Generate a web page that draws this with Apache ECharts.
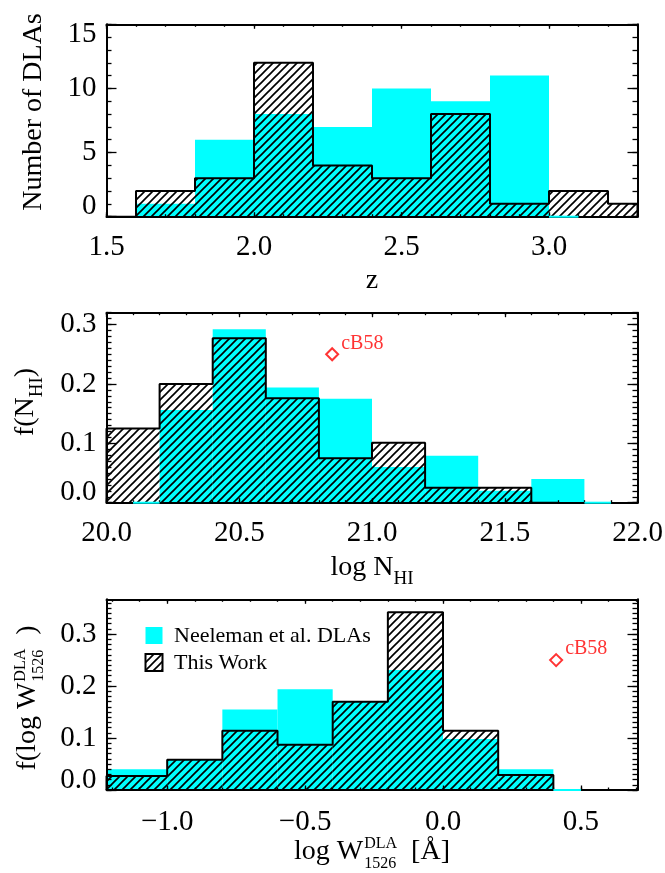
<!DOCTYPE html>
<html><head><meta charset="utf-8">
<script src="https://cdn.jsdelivr.net/npm/echarts@6/dist/echarts.min.js"></script>
<style>html,body{margin:0;padding:0;background:#fff}#c{width:665px;height:873px}</style>
</head><body><div id="c"></div>
<script>
// ---------------- data ----------------
// Panel 1: redshift histogram (counts)
const zEdgesThis = [1.5, 1.6, 1.8, 2.0, 2.2, 2.4, 2.6, 2.8, 3.0, 3.2, 3.3];
const zThisWork  = [0, 2, 3, 12, 4, 3, 8, 1, 2, 1];
const zEdgesNee  = [1.6, 1.8, 2.0, 2.2, 2.4, 2.6, 2.8, 3.0, 3.1];
const zNeeleman  = [1, 6, 8, 7, 10, 9, 11, 0];
// Panel 2: log N_HI distribution
const nEdgesThis = [20.0, 20.2, 20.4, 20.6, 20.8, 21.0, 21.2, 21.4, 21.6, 21.7];
const nThisWork  = [0.125, 0.200, 0.277, 0.176, 0.075, 0.101, 0.025, 0.025, 0];
const nEdgesNee  = [20.1, 20.2, 20.4, 20.6, 20.8, 21.0, 21.2, 21.4, 21.6, 21.8, 21.9];
const nNeeleman  = [0, 0.156, 0.292, 0.194, 0.175, 0.060, 0.079, 0.020, 0.040, 0];
// Panel 3: log W1526 distribution
const wEdgesThis = [-1.22, -1.0, -0.8, -0.6, -0.4, -0.2, 0.0, 0.2, 0.4];
const wThisWork  = [0.027, 0.058, 0.114, 0.087, 0.170, 0.342, 0.114, 0.029];
const wEdgesNee  = [-1.22, -1.0, -0.8, -0.6, -0.4, -0.2, 0.0, 0.2, 0.4, 0.5];
const wNeeleman  = [0.040, 0.058, 0.155, 0.194, 0.170, 0.231, 0.098, 0.040, 0];
// cB58 points
const cb58N = [20.85, 0.25];
const cb58W = [0.41, 0.25];
// ticks / labels
const xMajor1 = [1.5, 2.0, 2.5, 3.0];            const xLabels1 = ['1.5', '2.0', '2.5', '3.0'];
const yMajor1 = [0, 5, 10, 15];                  const yLabels1 = ['0', '5', '10', '15'];
const xMajor2 = [20.0, 20.5, 21.0, 21.5, 22.0];  const xLabels2 = ['20.0', '20.5', '21.0', '21.5', '22.0'];
const yMajor2 = [0, 0.1, 0.2, 0.3];              const yLabels2 = ['0.0', '0.1', '0.2', '0.3'];
const xMajor3 = [-1.0, -0.5, 0.0, 0.5];          const xLabels3 = ['\u22121.0', '\u22120.5', '0.0', '0.5'];
const yMajor3 = [0, 0.1, 0.2, 0.3];              const yLabels3 = ['0.0', '0.1', '0.2', '0.3'];
const legendNames = ['Neeleman et al. DLAs', 'This Work'];

// ---------------- helpers ----------------
const FONT = 'Liberation Serif';
const TICKFS = 29;
const CYAN = '#00ffff';
function range(a, b, s) { const out = []; const n = Math.round((b - a) / s); for (let i = 0; i <= n; i++) out.push(+(a + i * s).toFixed(6)); return out; }

function makeHatch(s, lw) {
  const c = document.createElement('canvas'); c.width = s; c.height = s;
  const ctx = c.getContext('2d'); ctx.strokeStyle = '#000'; ctx.lineWidth = lw;
  for (const k of [0, s, 2 * s]) { ctx.beginPath(); ctx.moveTo(-1, k + 1); ctx.lineTo(s + 1, k - s - 1); ctx.stroke(); }
  return c;
}
const hatchCanvas = makeHatch(8, 1.7);
const HATCH = { image: hatchCanvas, repeat: 'repeat' };

const richStyles = {
  lo: { padding: [0, 0, 20, 0], fontFamily: FONT, fontSize: TICKFS, color: '#000' },
  hi: { padding: [20, 0, 0, 0], fontFamily: FONT, fontSize: TICKFS, color: '#000' }
};

function axesFor(dim, g, min, max, majors, labels, minors, majLen, minLen, margin, shiftEnds) {
  const pos = dim === 'x' ? ['bottom', 'top'] : ['left', 'right'];
  const common = { type: 'value', gridIndex: g, min, max, z: 10, splitLine: { show: false },
    minorTick: { show: false }, minorSplitLine: { show: false } };
  const tickStyle = { color: '#000', width: 1.3 };
  const fmt = v => {
    const i = majors.findIndex(m => Math.abs(m - v) < 1e-9);
    if (i < 0) return '';
    if (shiftEnds) {
      if (Math.abs(v - min) < 1e-9) return '{lo|' + labels[i] + '}';
      if (Math.abs(v - max) < 1e-9) return '{hi|' + labels[i] + '}';
    }
    return labels[i];
  };
  return [
    { ...common, position: pos[0],
      axisLine: { show: true, onZero: false, lineStyle: { color: '#000', width: 2 } },
      axisTick: { show: true, inside: true, length: majLen, customValues: majors, lineStyle: tickStyle },
      axisLabel: { show: true, customValues: majors, formatter: fmt, margin, color: '#000',
        fontFamily: FONT, fontSize: TICKFS, rich: richStyles } },
    { ...common, position: pos[0], axisLine: { show: false, onZero: false },
      axisTick: { show: true, inside: true, length: minLen, customValues: minors, lineStyle: tickStyle },
      axisLabel: { show: false } },
    { ...common, position: pos[1],
      axisLine: { show: true, onZero: false, lineStyle: { color: '#000', width: 2 } },
      axisTick: { show: true, inside: true, length: majLen, customValues: majors, lineStyle: tickStyle },
      axisLabel: { show: false } },
    { ...common, position: pos[1], axisLine: { show: false, onZero: false },
      axisTick: { show: true, inside: true, length: minLen, customValues: minors, lineStyle: tickStyle },
      axisLabel: { show: false } }
  ];
}

function binData(edges, vals) { return vals.map((v, i) => [edges[i], edges[i + 1], v]); }
function outline(edges, vals) {
  const d = [[edges[0], 0]];
  vals.forEach((v, i) => d.push([edges[i], v]));
  d.push([edges[vals.length], vals[vals.length - 1]]);
  d.push([edges[vals.length], 0]);
  return d;
}
function barSeries(g, data, fill, z) {
  return { type: 'custom', xAxisIndex: 4 * g, yAxisIndex: 4 * g, z, silent: true, data,
    encode: { x: [0, 1], y: 2 },
    renderItem: (p, api) => {
      const a = api.coord([api.value(0), api.value(2)]);
      const b = api.coord([api.value(1), 0]);
      return { type: 'rect', shape: { x: a[0], y: a[1], width: b[0] - a[0], height: b[1] - a[1] }, style: { fill } };
    } };
}
// empty (zero-height) cyan bins show as a thin cyan line on the bottom axis
function zeroBinSeries(g, data) {
  return { type: 'custom', xAxisIndex: 4 * g, yAxisIndex: 4 * g, z: 11, zlevel: 0, silent: true,
    data: data.filter(d => d[2] === 0), encode: { x: [0, 1], y: 2 },
    renderItem: (p, api) => {
      const a = api.coord([api.value(0), 0]);
      const b = api.coord([api.value(1), 0]);
      return { type: 'line', z2: 100, shape: { x1: a[0], y1: a[1], x2: b[0], y2: b[1] }, style: { stroke: CYAN, lineWidth: 2 } };
    } };
}
function lineSeries(g, data) {
  return { type: 'line', xAxisIndex: 4 * g, yAxisIndex: 4 * g, z: 5, step: 'end', symbol: 'none', silent: true,
    data, lineStyle: { color: '#000', width: 2 }, animation: false };
}
function cbSeries(g, pt) {
  return { type: 'scatter', xAxisIndex: 4 * g, yAxisIndex: 4 * g, z: 6, data: [pt], symbol: 'diamond', symbolSize: 12,
    itemStyle: { color: 'rgba(255,255,255,0)', borderColor: '#ff0000', borderWidth: 2 },
    label: { show: true, formatter: 'cB58', position: 'right', distance: 2, offset: [0, -11], color: '#ff0000',
      fontFamily: FONT, fontSize: 20 } };
}

// text layout for titles with sub/superscripts
const mctx = document.createElement('canvas').getContext('2d');
function tw(t, s) { mctx.font = s + 'px "' + FONT + '"'; return mctx.measureText(t).width; }
function titleGroup(ox, oy, rot, pieces) {
  const items = pieces.map(p => p.stack ? { w: Math.max(...p.stack.map(q => tw(q.t, q.s))) + (p.pad || 0), pad: p.pad || 0, parts: p.stack }
                                         : { w: tw(p.t, p.s) + (p.pad || 0), pad: p.pad || 0, parts: [p] });
  const W = items.reduce((a, b) => a + b.w, 0);
  let cur = -W / 2; const children = [];
  items.forEach(it => {
    it.parts.forEach(q => children.push({ type: 'text', x: cur + it.pad, y: (q.dy || 0) - 0.3375 * q.s,
      style: { text: q.t, font: q.s + 'px "' + FONT + '"', fill: '#000', textAlign: 'left', textVerticalAlign: 'middle' } }));
    cur += it.w;
  });
  return { type: 'group', x: ox, y: oy, rotation: rot, children };
}

// ---------------- chart ----------------
const PL = 106.5, PW = 531;
const grids = [
  { left: PL, top: 24.3, width: PW, height: 192.4 },
  { left: PL, top: 312.7, width: PW, height: 190 },
  { left: PL, top: 599.3, width: PW, height: 190.7 }
].map(g => ({ ...g, show: false, outerBoundsMode: 'none' }));

const xAxes = [
  ...axesFor('x', 0, 1.5, 3.3, xMajor1, xLabels1, range(1.5, 3.3, 0.1), 4.5, 2.5, 16, false),
  ...axesFor('x', 1, 20.0, 22.0, xMajor2, xLabels2, range(20.0, 22.0, 0.1), 4.5, 2.5, 16, false),
  ...axesFor('x', 2, -1.22, 0.705, xMajor3, xLabels3, range(-1.2, 0.7, 0.1), 4.5, 2.5, 18, false)
];
const yAxes = [
  ...axesFor('y', 0, 0, 15, yMajor1, yLabels1, range(0, 15, 1), 10, 5, 10, true),
  ...axesFor('y', 1, 0, 0.32, yMajor2, yLabels2, range(0, 0.32, 0.01), 10, 5, 10, true),
  ...axesFor('y', 2, 0, 0.367, yMajor3, yLabels3, range(0, 0.36, 0.01), 10, 5, 10, true)
];

const zNee = binData(zEdgesNee, zNeeleman), nNee = binData(nEdgesNee, nNeeleman), wNee = binData(wEdgesNee, wNeeleman);
const series = [
  barSeries(0, zNee, CYAN, 2),
  barSeries(0, binData(zEdgesThis, zThisWork), HATCH, 3),
  lineSeries(0, outline(zEdgesThis, zThisWork)),
  zeroBinSeries(0, zNee),
  barSeries(1, nNee, CYAN, 2),
  barSeries(1, binData(nEdgesThis, nThisWork), HATCH, 3),
  lineSeries(1, outline(nEdgesThis, nThisWork)),
  zeroBinSeries(1, nNee),
  cbSeries(1, cb58N),
  barSeries(2, wNee, CYAN, 2),
  barSeries(2, binData(wEdgesThis, wThisWork), HATCH, 3),
  lineSeries(2, outline(wEdgesThis, wThisWork)),
  zeroBinSeries(2, wNee),
  cbSeries(2, cb58W)
];

const R = Math.PI / 2;
const CX = PL + PW / 2;
const graphic = [
  titleGroup(43, 112, R, [{ t: 'Number of DLAs', s: 28 }]),
  titleGroup(CX, 290, 0, [{ t: 'z', s: 28 }]),
  titleGroup(35, 402, R, [{ t: 'f(N', s: 28 }, { t: 'HI', s: 19, dy: 8 }, { t: ')', s: 28 }]),
  titleGroup(CX, 577, 0, [{ t: 'log N', s: 28 }, { t: 'HI', s: 19, dy: 8 }]),
  titleGroup(37, 698, R, [{ t: 'f(log W', s: 28 }, { stack: [{ t: 'DLA', s: 16, dy: -11 }, { t: '1526', s: 16, dy: 7 }], pad: 1 }, { t: '  )', s: 28 }]),
  titleGroup(CX, 861, 0, [{ t: 'log W', s: 28 }, { stack: [{ t: 'DLA', s: 16, dy: -12 }, { t: '1526', s: 16, dy: 8 }], pad: 1 }, { t: '  [\u00c5]', s: 28 }]),
  // legend
  { type: 'rect', shape: { x: 145.5, y: 627, width: 17, height: 17 }, style: { fill: CYAN }, z: 20 },
  { type: 'rect', shape: { x: 145.5, y: 654, width: 17, height: 17 }, style: { fill: HATCH, stroke: '#000', lineWidth: 2 }, z: 20 },
  { type: 'text', x: 174, y: 636, z: 20, style: { text: legendNames[0], font: '22px "' + FONT + '"', fill: '#000', textAlign: 'left', textVerticalAlign: 'middle' } },
  { type: 'text', x: 174, y: 663, z: 20, style: { text: legendNames[1], font: '22px "' + FONT + '"', fill: '#000', textAlign: 'left', textVerticalAlign: 'middle' } }
];

const chart = echarts.init(document.getElementById('c'), null, { renderer: 'canvas', width: 665, height: 873 });
chart.setOption({ animation: false, backgroundColor: '#fff', grid: grids, xAxis: xAxes, yAxis: yAxes, series, graphic });
</script></body></html>
